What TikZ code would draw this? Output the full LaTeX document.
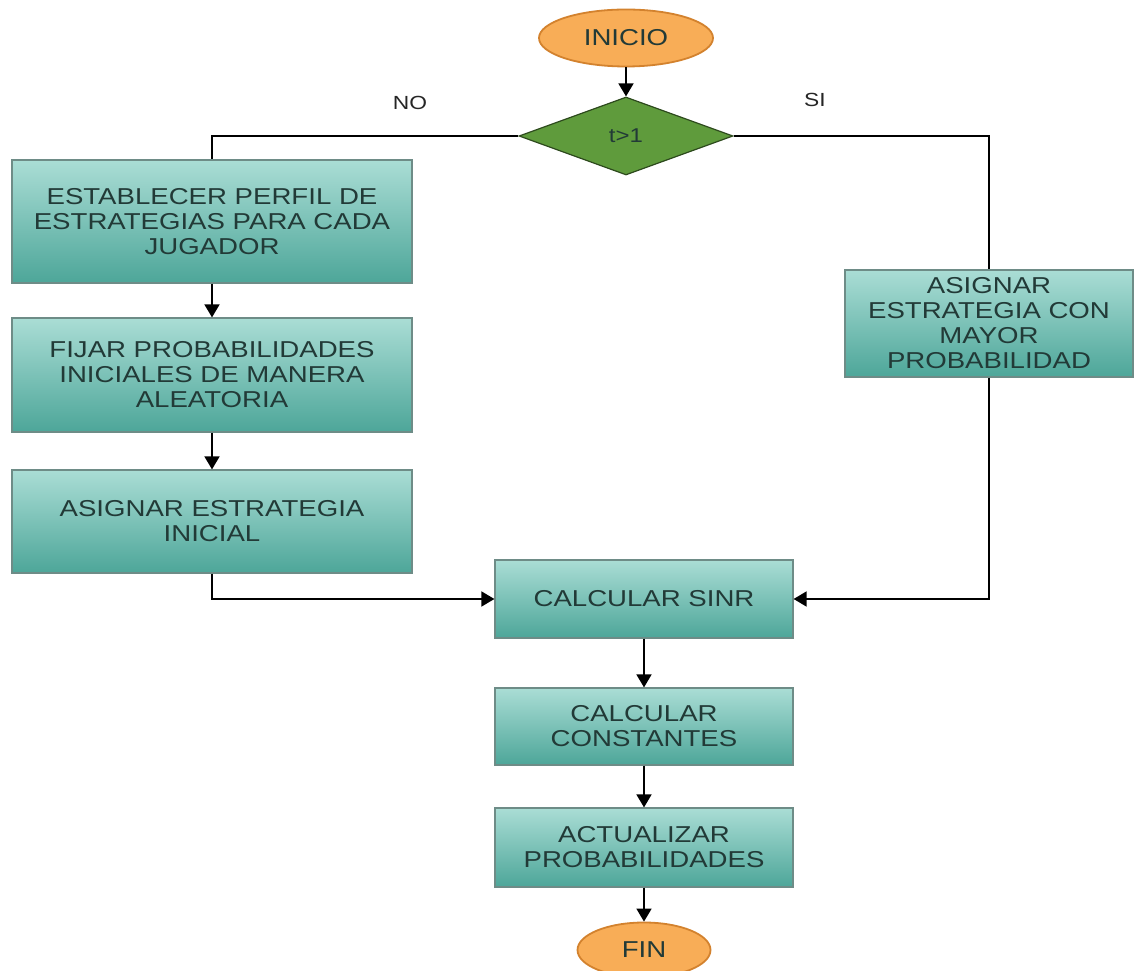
\documentclass[tikz,border=0pt]{standalone}
\usepackage{fontspec}
\setmainfont[FakeStretch=1.2]{Liberation Sans}
\usetikzlibrary{arrows.meta,shapes.geometric,positioning,calc}
\usepackage{color}

\definecolor{cajaarriba}{HTML}{AADDD5}
\definecolor{cajaabajo}{HTML}{4DA699}
\definecolor{cajaborde}{HTML}{6E8C87}
\definecolor{textocaja}{HTML}{223A37}
\definecolor{naranja}{HTML}{F8AD57}
\definecolor{naranjaborde}{HTML}{D3822E}
\definecolor{verde}{HTML}{5F9B3C}
\definecolor{verdeborde}{HTML}{2D4A1D}

\tikzset{
  proceso/.style={rectangle, draw=cajaborde, line width=1.2pt, top color=cajaarriba,
    bottom color=cajaabajo, text=textocaja, align=center, inner sep=0pt,
    font=\fontsize{23}{25}\selectfont},
  terminal/.style={ellipse, draw=naranjaborde, line width=1.8pt, fill=naranja,
    text=textocaja, inner sep=0pt, font=\fontsize{23}{25}\selectfont},
  decision/.style={diamond, draw=verdeborde, line width=1.2pt, fill=verde,
    text=textocaja, inner sep=0pt, font=\fontsize{20}{22}\selectfont},
  flecha/.style={line width=1.7pt, -{Triangle[length=13pt,width=15pt]}},
  linea/.style={line width=1.7pt},
  etiqueta/.style={font=\fontsize{19}{21}\selectfont, text=black!85}
}

\begin{document}
\begin{tikzpicture}[x=1pt,y=1pt]
  \useasboundingbox (0,0) rectangle (1135,970);
  % nodos
  \node[terminal, minimum width=174pt, minimum height=57pt] (inicio) at (626,932) {INICIO};
  \node[decision, minimum width=214pt, minimum height=78pt] (cond) at (626,834) {t>1};
  \node[proceso, minimum width=400pt, minimum height=123pt] (perfil) at (212,748.5)
    {ESTABLECER PERFIL DE\\ESTRATEGIAS PARA CADA\\JUGADOR};
  \node[proceso, minimum width=400pt, minimum height=114pt] (fijar) at (212,595)
    {FIJAR PROBABILIDADES\\INICIALES DE MANERA\\ALEATORIA};
  \node[proceso, minimum width=400pt, minimum height=103pt] (inicial) at (212,448.5)
    {ASIGNAR ESTRATEGIA\\INICIAL};
  \node[proceso, minimum width=288pt, minimum height=107pt] (mayor) at (989,646.5)
    {ASIGNAR\\ESTRATEGIA CON\\MAYOR\\PROBABILIDAD};
  \node[proceso, minimum width=298pt, minimum height=78pt] (sinr) at (644,371) {CALCULAR SINR};
  \node[proceso, minimum width=298pt, minimum height=77pt] (const) at (644,243.5)
    {CALCULAR\\CONSTANTES};
  \node[proceso, minimum width=298pt, minimum height=79pt] (actual) at (644,122.5)
    {ACTUALIZAR\\PROBABILIDADES};
  \node[terminal, minimum width=133pt, minimum height=55pt] (fin) at (644,20) {FIN};
  % etiquetas
  \node[etiqueta] (no) at (410,867) {NO};
  \node[etiqueta] (si) at (815,870) {SI};
  % conectores
  \draw[flecha] (inicio) -- (cond);
  \draw[linea] (cond.west) -| (perfil.north);
  \draw[linea] (cond.east) -| (mayor.north);
  \draw[flecha] (perfil) -- (fijar);
  \draw[flecha] (fijar) -- (inicial);
  \draw[flecha] (inicial.south) |- (sinr.west);
  \draw[flecha] (mayor.south) |- (sinr.east);
  \draw[flecha] (sinr) -- (const);
  \draw[flecha] (const) -- (actual);
  \draw[flecha] (actual) -- (fin);
\end{tikzpicture}
\end{document}
